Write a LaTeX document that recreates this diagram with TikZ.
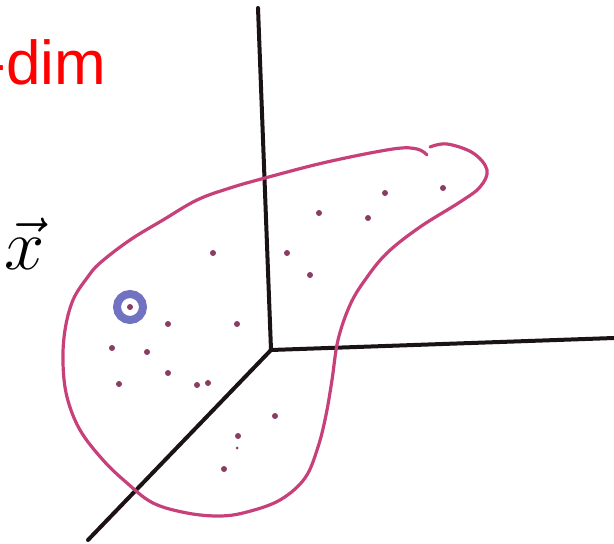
\documentclass[tikz,border=0pt]{standalone}
\usepackage{fontspec}
\setsansfont{Liberation Sans}
\usetikzlibrary{positioning}
\definecolor{InkBlack}{HTML}{1A1214}
\definecolor{BlobPink}{HTML}{C8407A}
\definecolor{DotPlum}{HTML}{8A3C62}
\definecolor{RingBlue}{HTML}{7272C2}
\definecolor{TitleRed}{HTML}{FF0000}

\begin{document}
\begin{tikzpicture}[x=0.5pt, y=-0.5pt,
    axisline/.style={draw=InkBlack, line width=2pt, line cap=round},
    blobline/.style={draw=BlobPink, line width=1.6pt, line cap=round},
    datadot/.style={fill=DotPlum},
    ringmark/.style={draw=RingBlue, line width=4pt}]
  \useasboundingbox (0,0) rectangle (614,544);
  % axes
  \coordinate (origin) at (271,350);
  \coordinate (uptip) at (258,8);
  \coordinate (righttip) at (614,338);
  \coordinate (downtip) at (88,540);
  \draw[axisline] (origin) -- (uptip);
  \draw[axisline] (origin) -- (righttip);
  \draw[axisline] (origin) -- (downtip);
  % outline of the data cloud
  \draw[blobline] plot[smooth, tension=0.6] coordinates {
    (430,147) (447,144) (473,153) (487,170) (480,187) (460,202) (420,227)
    (387,253) (365,280) (350,305) (338,340) (332,380) (326,415) (318,447)
    (305,478) (280,500) (247,512) (220,516) (187,513) (153,503) (127,483)
    (103,460) (80,430) (67,397) (63,363) (65,330) (73,300) (87,278)
    (100,263) (130,240) (163,220) (197,200) (230,188) (265,178) (327,162)
    (393,149) (417,149) (427,155)};
  % samples
  \foreach \px/\py in {213/253, 287/253, 168/324, 237/324, 112/348, 147/352,
      168/373, 119/384, 197/385, 208/383, 275/416, 385/193, 443/188,
      319/213, 368/218, 310/275, 238/436, 224/469, 130/307}
    \fill[datadot] (\px,\py) circle (3);
  \fill[datadot] (237,448) circle (1.5);
  \draw[ringmark] (130,307) circle (13);
  % labels
  \node[inner sep=0pt, anchor=base west, text=TitleRed,
    font=\sffamily\fontsize{31}{31}\selectfont] (dimlabel) at (-15,85) {-dim};
  \node[inner sep=0pt, anchor=base west, font=\Huge]
    (veclabel) at (4,270) {\scalebox{1.45}{$\vec{x}$}};
\end{tikzpicture}
\end{document}
